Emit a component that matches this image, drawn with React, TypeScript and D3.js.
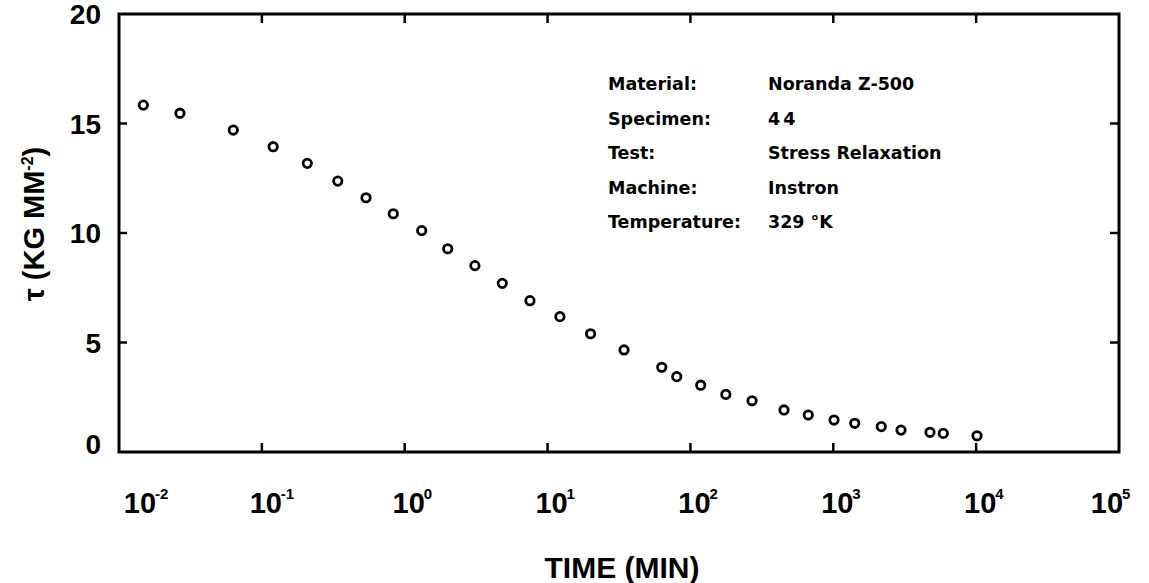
import React from "react";
import * as d3 from "d3";

// ---- data ----
const timeMin = [0.0148, 0.0267, 0.0631, 0.12, 0.208, 0.34, 0.536, 0.832, 1.315, 2.0, 3.1, 4.82, 7.53, 12.2, 20.0, 34.3, 63.0, 80.2, 118, 177, 270, 452, 668, 1012, 1413, 2168, 2979, 4753, 5888, 10140];
const tauValues = [15.84, 15.47, 14.7, 13.94, 13.18, 12.37, 11.61, 10.88, 10.11, 9.28, 8.51, 7.7, 6.91, 6.18, 5.4, 4.66, 3.87, 3.44, 3.05, 2.63, 2.34, 1.92, 1.69, 1.46, 1.31, 1.16, 1.0, 0.9, 0.85, 0.74];
const xTickExponents = [-2, -1, 0, 1, 2, 3, 4, 5];
const yTickValues = [0, 5, 10, 15, 20];
const infoLabels = ["Material:", "Specimen:", "Test:", "Machine:", "Temperature:"];
const infoValues = ["Noranda Z-500", "44", "Stress Relaxation", "Instron", "329 °K"];

const W = 1149, H = 583;
const L = 119, R = 1119, T = 14, B = 452;

export default function App() {
  const x = d3.scaleLog().domain([1e-2, 1e5]).range([L, R]);
  const y = d3.scaleLinear().domain([0, 20]).range([B, T]);
  const axisFont = "'Liberation Sans', Arial, sans-serif";
  const infoFont = "'DejaVu Sans', sans-serif";
  const inner = xTickExponents.filter((e) => e > -2 && e < 5);
  const innerY = yTickValues.filter((v) => v > 0 && v < 20);
  return (
    <svg width={W} height={H} style={{ position: "absolute", left: 0, top: 0, background: "#fff" }}>
      <rect x={0} y={0} width={W} height={H} fill="#fff" />
      {/* frame */}
      <rect x={L} y={T} width={R - L} height={B - T} fill="none" stroke="#000" strokeWidth={3} />
      {/* x ticks bottom and top */}
      {inner.map((e) => (
        <g key={"xt" + e}>
          <line x1={x(Math.pow(10, e))} x2={x(Math.pow(10, e))} y1={B} y2={B - 9} stroke="#000" strokeWidth={2.5} />
          <line x1={x(Math.pow(10, e))} x2={x(Math.pow(10, e))} y1={T} y2={T + 9} stroke="#000" strokeWidth={2.5} />
        </g>
      ))}
      {/* y ticks left and right */}
      {innerY.map((v) => (
        <g key={"yt" + v}>
          <line x1={L} x2={L + 8} y1={y(v)} y2={y(v)} stroke="#000" strokeWidth={2.5} />
          <line x1={R} x2={R - 9} y1={y(v)} y2={y(v)} stroke="#000" strokeWidth={2.5} />
        </g>
      ))}
      {/* y tick labels */}
      {yTickValues.map((v) => (
        <text key={"yl" + v} x={101} y={y(v) + (v === 0 ? -8 : 0)} dy="0.36em" textAnchor="end"
          fontFamily={axisFont} fontWeight="bold" fontSize={28} fill="#000">{v}</text>
      ))}
      {/* x tick labels */}
      {xTickExponents.map((e) => {
        let cx = x(Math.pow(10, e)) + 4;
        if (e === -2) cx = L + 21;
        if (e === 5) cx = R - 12;
        return (
          <g key={"xl" + e}>
            <text x={cx} y={513} textAnchor="middle" fontFamily={axisFont} fontWeight="bold" fontSize={29} fill="#000">10</text>
            <text x={cx + 15} y={499} textAnchor="start" fontFamily={axisFont} fontWeight="bold" fontSize={15} fill="#000">{e < 0 ? "-" + Math.abs(e) : String(e)}</text>
          </g>
        );
      })}
      {/* data points */}
      {timeMin.map((t, i) => (
        <circle key={"p" + i} cx={x(t)} cy={y(tauValues[i])} r={4.2} fill="none" stroke="#000" strokeWidth={2.8} />
      ))}
      {/* info block */}
      {infoLabels.map((lab, i) => (
        <g key={"info" + i}>
          <text x={608} y={90 + i * 34.5} fontFamily={infoFont} fontWeight="bold" fontSize={17.5} fill="#000">{lab}</text>
          <text x={768} y={90 + i * 34.5} fontFamily={infoFont} fontWeight="bold" fontSize={17.5} fill="#000"
            letterSpacing={infoValues[i] === "44" ? 3 : 0}>{infoValues[i]}</text>
        </g>
      ))}
      {/* axis titles */}
      <text x={622} y={578} textAnchor="middle" fontFamily={axisFont} fontWeight="bold" fontSize={30} fill="#000">TIME (MIN)</text>
      <text transform="translate(44,224) rotate(-90)" textAnchor="middle" fontFamily={axisFont} fontWeight="bold" fontSize={29} fill="#000">
        τ (KG MM<tspan fontSize={16} dy={-11}>-2</tspan><tspan dy={11}>)</tspan>
      </text>
    </svg>
  );
}
